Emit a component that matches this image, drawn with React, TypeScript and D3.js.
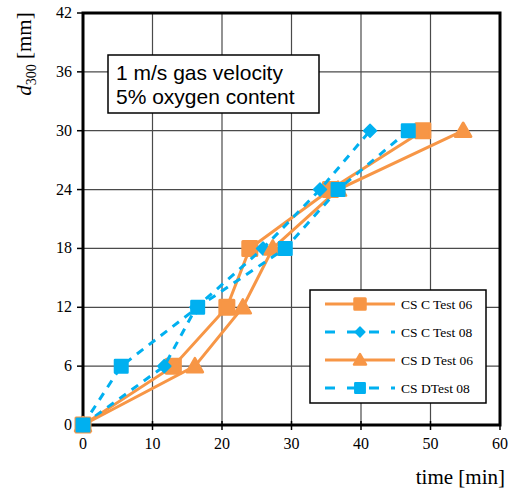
import React from "react";
import * as d3 from "d3";

const xTicks = [0, 10, 20, 30, 40, 50, 60];
const yTicks = [0, 6, 12, 18, 24, 30, 36, 42];
const depth = [0, 6, 12, 18, 24, 30];

const csC06 = [0, 13, 20.7, 24.0, 35.6, 48.9];
const csC08 = [0, 11.7, 16.3, 25.9, 34.1, 41.3];
const csD06 = [0, 16.1, 23.0, 27.3, 36.7, 54.7];
const csD08 = [0, 5.5, 16.5, 29.1, 36.7, 46.8];

const ORANGE = "#F79646";
const BLUE = "#00B0F0";

const series = [
  { name: "CS C Test 06", times: csC06, color: ORANGE, dash: null, marker: "square" },
  { name: "CS C Test 08", times: csC08, color: BLUE, dash: "8,7", marker: "diamond" },
  { name: "CS D Test 06", times: csD06, color: ORANGE, dash: null, marker: "triangle" },
  { name: "CS DTest 08", times: csD08, color: BLUE, dash: "8,7", marker: "bsquare" },
];

function Marker({ type, x, y, color, legend }: any) {
  const k = legend ? 0.75 : 1;
  if (type === "square") {
    const s = 14 * k;
    return <rect x={x - s / 2} y={y - s / 2} width={s} height={s} fill={color} stroke={color} strokeWidth={3} strokeLinejoin="round" />;
  }
  if (type === "bsquare") {
    const s = 12.5 * k;
    return <rect x={x - s / 2} y={y - s / 2} width={s} height={s} fill={color} stroke={color} strokeWidth={2.5} strokeLinejoin="round" />;
  }
  if (type === "diamond") {
    const s = 6.5 * k;
    return <path d={`M${x},${y - s}L${x + s},${y}L${x},${y + s}L${x - s},${y}Z`} fill={color} stroke={color} strokeWidth={1.5} strokeLinejoin="round" />;
  }
  const s = 8 * k;
  return <path d={`M${x},${y - s}L${x + s},${y + s * 0.75}L${x - s},${y + s * 0.75}Z`} fill={color} stroke={color} strokeWidth={2.5} strokeLinejoin="round" />;
}

export default function App() {
  const x = d3.scaleLinear().domain([0, 60]).range([83, 500]);
  const y = d3.scaleLinear().domain([0, 42]).range([425, 13]);
  const line = d3.line<[number, number]>().x((d) => x(d[0])).y((d) => y(d[1]));
  const serif = "'Liberation Serif', 'Times New Roman', serif";
  const sans = "'Liberation Sans', Arial, sans-serif";

  return (
    <svg width={512} height={488} style={{ position: "absolute", left: 0, top: 0, background: "#fff" }}>
      <rect width={512} height={488} fill="#fff" />
      {xTicks.slice(1, -1).map((t) => (
        <line key={"gx" + t} x1={x(t)} x2={x(t)} y1={y(42)} y2={y(0)} stroke="#4a4a4a" strokeWidth={1.2} />
      ))}
      {yTicks.slice(1, -1).map((t) => (
        <line key={"gy" + t} x1={x(0)} x2={x(60)} y1={y(t)} y2={y(t)} stroke="#4a4a4a" strokeWidth={1.2} />
      ))}
      <rect x={x(0)} y={y(42)} width={x(60) - x(0)} height={y(0) - y(42)} fill="none" stroke="#000" strokeWidth={3} />
      {yTicks.map((t) => (
        <g key={"ty" + t}>
          <line x1={x(0) - 6} x2={x(0)} y1={y(t)} y2={y(t)} stroke="#000" strokeWidth={1.5} />
          <text x={x(0) - 11} y={y(t) + 5} textAnchor="end" fontFamily={serif} fontSize={16}>{t}</text>
        </g>
      ))}
      {xTicks.map((t) => (
        <g key={"tx" + t}>
          <line x1={x(t)} x2={x(t)} y1={y(0) - 4} y2={y(0) + 5} stroke="#000" strokeWidth={1.5} />
          <text x={x(t)} y={y(0) + 24} textAnchor="middle" fontFamily={serif} fontSize={16}>{t}</text>
        </g>
      ))}
      <text x={505} y={484} textAnchor="end" fontFamily={serif} fontSize={21}>time [min]</text>
      <text transform="translate(31,54) rotate(-90)" textAnchor="middle" fontFamily={serif} fontSize={21}>
        <tspan fontStyle="italic">d</tspan>
        <tspan fontSize={14} dy={5}>300</tspan>
        <tspan dy={-5}> [mm]</tspan>
      </text>
      <rect x={108} y={55} width={211} height={58} fill="#fff" stroke="#000" strokeWidth={1.5} />
      <text x={116} y={80} fontFamily={sans} fontSize={21}>1 m/s gas velocity</text>
      <text x={116} y={104} fontFamily={sans} fontSize={21}>5% oxygen content</text>
      {series.map((s) => (
        <g key={s.name}>
          <path
            d={line(s.times.map((t, i) => [t, depth[i]] as [number, number])) || ""}
            fill="none"
            stroke={s.color}
            strokeWidth={3}
            strokeDasharray={s.dash || undefined}
          />
          {s.times.map((t, i) => (
            <Marker key={i} type={s.marker} x={x(t)} y={y(depth[i])} color={s.color} />
          ))}
        </g>
      ))}
      <rect x={310} y={290} width={176} height={113} fill="#fff" stroke="#000" strokeWidth={1.5} />
      {series.map((s, i) => {
        const ly = 304 + i * 28;
        return (
          <g key={"lg" + s.name}>
            <line x1={325} x2={395} y1={ly} y2={ly} stroke={s.color} strokeWidth={3} strokeDasharray={s.dash ? "10,12" : undefined} />
            <Marker type={s.marker} x={360} y={ly} color={s.color} legend />
            <text x={401} y={ly + 5} fontFamily={serif} fontSize={13.5}>{s.name}</text>
          </g>
        );
      })}
    </svg>
  );
}
